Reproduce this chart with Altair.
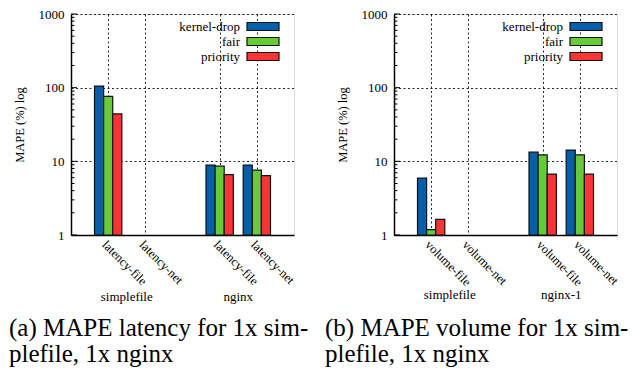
import json
import altair as alt
import pandas as pd

# ---------------- data ----------------
series = ["kernel-drop", "fair", "priority"]
colors = ["#0060ad", "#66cc33", "#ff3333"]

left_groups = ["simplefile", "nginx"]
left_metrics = ["latency-file", "latency-net"]
left_kernel_drop = [105, None, 8.9, 8.9]
left_fair = [76, None, 8.6, 7.6]
left_priority = [44, None, 6.6, 6.4]

right_groups = ["simplefile", "nginx-1"]
right_metrics = ["volume-file", "volume-net"]
right_kernel_drop = [5.9, None, 13.3, 14.2]
right_fair = [1.18, None, 12.2, 12.2]
right_priority = [1.63, None, 6.7, 6.7]

y_title = "MAPE (%) log"
y_ticks = [1, 10, 100, 1000]
y_minor = [m * 10 ** e for e in range(3) for m in range(2, 10)]

caption_left = ["(a) MAPE latency for 1x sim-", "plefile, 1x nginx"]
caption_right = ["(b) MAPE volume for 1x sim-", "plefile, 1x nginx"]

FONT = "'Liberation Serif', 'Times New Roman', serif"
W, H = 223, 221
BAR_W = 0.245


def panel(groups, metrics, values, caption, caption_x, group_y):
    rows = []
    slots = []
    for gi, g in enumerate(groups):
        for mi, m in enumerate(metrics):
            slot = gi * 3 + mi + 1
            slots.append(slot)
            for si, s in enumerate(series):
                v = values[si][gi * len(metrics) + mi]
                if v is None:
                    continue
                rows.append(dict(group=g, metric=m, series=s, slot=slot, k=si, value=v))
    df = pd.DataFrame(rows)

    labels = [""] * 6
    for gi in range(len(groups)):
        for mi, m in enumerate(metrics):
            labels[gi * 3 + mi + 1] = m
    label_expr = json.dumps(labels) + "[datum.value]"

    xscale = alt.Scale(domain=[0, 6], nice=False, zero=False)
    yscale = alt.Scale(type="log", domain=[1, 1000], nice=False)

    xaxis = alt.Axis(
        values=slots, labelExpr=label_expr, title=None, ticks=False, tickSize=0,
        labelAngle=45, labelAlign="left", labelBaseline="top", labelPadding=3,
        labelFontSize=12.5, labelFont=FONT, labelColor="black",
        grid=True, gridDash=[2, 2.5], gridColor="#000", gridOpacity=0.85, gridWidth=1,
        domainColor="black", domainWidth=1.5, labelOverlap=False, labelBound=False,
        labelFlush=False,
    )
    yaxis = alt.Axis(
        values=y_ticks, format="d", title=y_title, ticks=False, tickSize=0,
        labelPadding=7, labelFontSize=13, labelFont=FONT, labelColor="black",
        titleFont=FONT, titleFontSize=12.5, titleFontWeight="normal", titleColor="black",
        titlePadding=12,
        grid=True, gridDash=[2, 2.5], gridColor="#000", gridOpacity=0.85, gridWidth=1,
        domainColor="black", domainWidth=1.5,
    )

    bars = alt.Chart(df).transform_calculate(
        x0=f"datum.slot + (datum.k - 1.5) * {BAR_W}",
        x1=f"datum.slot + (datum.k - 0.5) * {BAR_W}",
    ).mark_bar(stroke="#111", strokeWidth=1.2).encode(
        x=alt.X("x0:Q", scale=xscale, axis=xaxis),
        x2="x1:Q",
        y=alt.Y("value:Q", scale=yscale, axis=yaxis),
        y2=alt.datum(1),
        color=alt.Color("series:N", scale=alt.Scale(domain=series, range=colors), legend=None),
    )

    minor_df = pd.DataFrame({"v": y_minor})
    minor = alt.Chart(minor_df).mark_rule(color="black", strokeWidth=1).encode(
        y=alt.Y("v:Q", scale=yscale, axis=yaxis), x=alt.value(0), x2=alt.value(3.5)
    )
    major_df = pd.DataFrame({"v": y_ticks})
    major = alt.Chart(major_df).mark_rule(color="black", strokeWidth=1).encode(
        y=alt.Y("v:Q", scale=yscale, axis=yaxis), x=alt.value(0), x2=alt.value(6)
    )

    gdf = pd.DataFrame({
        "group": groups,
        "center": [(slots[gi * len(metrics)] + slots[gi * len(metrics) + len(metrics) - 1]) / 2
                   for gi in range(len(groups))],
    })
    group_text = alt.Chart(gdf).mark_text(
        font=FONT, fontSize=13, baseline="middle", align="center", color="black"
    ).encode(x=alt.X("center:Q", scale=xscale, axis=xaxis), y=alt.value(group_y), text="group:N")

    legend_layers = []
    for i, s in enumerate(series):
        ldf = pd.DataFrame({"series": [s]})
        yc = 12.5 + 15 * i
        legend_layers.append(
            alt.Chart(ldf).mark_rect(fill=colors[i], stroke="#111", strokeWidth=1.2).encode(
                x=alt.value(176), x2=alt.value(208), y=alt.value(yc - 4), y2=alt.value(yc + 4)
            )
        )
        legend_layers.append(
            alt.Chart(ldf).mark_text(
                font=FONT, fontSize=13, align="right", baseline="middle", color="black"
            ).encode(x=alt.value(169), y=alt.value(yc), text="series:N")
        )

    cdf = pd.DataFrame({"id": [0]})
    cap = alt.Chart(cdf).mark_text(
        font=FONT, fontSize=25, align="left", baseline="alphabetic",
        lineHeight=25.5, color="black",
    ).encode(x=alt.value(caption_x), y=alt.value(322), text=alt.value(caption))

    return alt.layer(bars, minor, major, group_text, *legend_layers, cap).properties(
        width=W, height=H
    )


left = panel(left_groups, left_metrics, [left_kernel_drop, left_fair, left_priority],
             caption_left, -62, 283)
right = panel(right_groups, right_metrics, [right_kernel_drop, right_fair, right_priority],
              caption_right, -69, 281)

chart = alt.hconcat(left, right, spacing=100, bounds="flush").properties(
    padding={"left": 0, "top": -1, "right": 0, "bottom": 0}
).configure_view(stroke=None).configure(background="white")

chart.save("out.html", embed_options={"renderer": "svg", "actions": False})
